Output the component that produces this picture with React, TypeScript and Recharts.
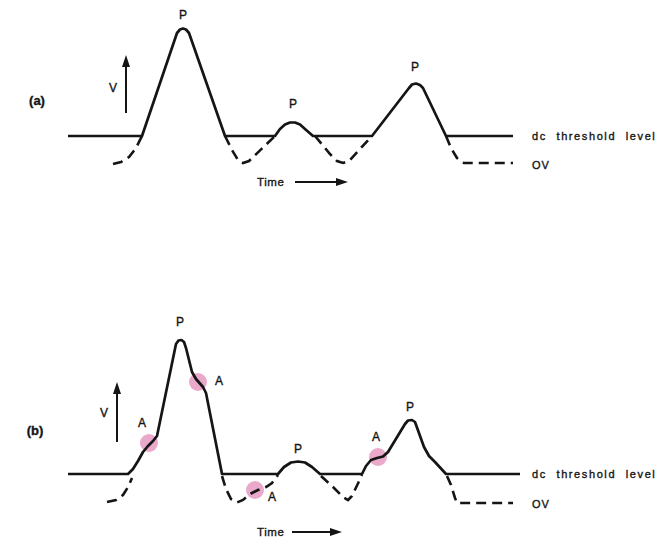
import React from 'react';
import { ComposedChart, Line, XAxis, YAxis, ReferenceDot, ReferenceLine, Scatter } from 'recharts';

// Time (t) and voltage (v) readings. Threshold level and 0 V baselines per panel.
const solidA = [
  { t: 0, v: 2.7 }, { t: 14.8, v: 2.7 }, { t: 21.8, v: 13.0 }, { t: 22.4, v: 13.35 },
  { t: 23.0, v: 13.45 }, { t: 23.6, v: 13.35 }, { t: 24.2, v: 13.0 }, { t: 31.4, v: 2.7 },
  { t: 41.4, v: 2.7 }, { t: 42.4, v: 3.4 }, { t: 43.4, v: 3.85 }, { t: 44.4, v: 4.05 },
  { t: 45.4, v: 4.05 }, { t: 46.4, v: 3.85 }, { t: 47.4, v: 3.4 }, { t: 49.0, v: 2.7 },
  { t: 60.8, v: 2.7 }, { t: 68.2, v: 7.5 }, { t: 68.8, v: 7.85 }, { t: 69.6, v: 7.95 },
  { t: 70.4, v: 7.8 }, { t: 71.0, v: 7.5 }, { t: 75.6, v: 2.7 }, { t: 89, v: 2.7 },
];

const dashA = [
  { t: 9, v: -0.1 }, { t: 10.6, v: 0.1 }, { t: 12.2, v: 0.6 }, { t: 13.6, v: 1.5 }, { t: 14.8, v: 2.7 },
  { t: 20, v: null },
  { t: 31.4, v: 2.7 }, { t: 32.8, v: 1.3 }, { t: 34, v: 0.3 }, { t: 35, v: 0 }, { t: 36.2, v: 0.2 }, { t: 41.4, v: 2.7 },
  { t: 45, v: null },
  { t: 49.4, v: 2.7 }, { t: 52.4, v: 0.9 }, { t: 53.8, v: 0.2 }, { t: 55, v: 0 }, { t: 56.2, v: 0.2 }, { t: 60.8, v: 2.7 },
  { t: 70, v: null },
  { t: 75.6, v: 2.7 }, { t: 76.6, v: 1.5 }, { t: 77.8, v: 0.5 }, { t: 79.2, v: 0 }, { t: 89, v: 0 },
];

const solidB = [
  { t: 0, v: 2.9 }, { t: 12, v: 2.9 }, { t: 13, v: 3.4 }, { t: 14, v: 4.2 }, { t: 15, v: 5.1 },
  { t: 16, v: 5.7 }, { t: 17, v: 6.2 }, { t: 17.8, v: 6.7 }, { t: 21.6, v: 15.9 }, { t: 22.1, v: 16.25 },
  { t: 22.7, v: 16.3 }, { t: 23.2, v: 16.1 }, { t: 23.6, v: 15.5 }, { t: 24.8, v: 13.1 }, { t: 25.6, v: 12.4 },
  { t: 27, v: 11.6 }, { t: 27.6, v: 11.0 }, { t: 30.8, v: 2.9 }, { t: 42, v: 2.9 }, { t: 43.2, v: 3.6 },
  { t: 44.6, v: 4.05 }, { t: 46, v: 4.15 }, { t: 47.4, v: 4.05 }, { t: 48.8, v: 3.6 }, { t: 50.4, v: 2.9 },
  { t: 58.8, v: 2.9 }, { t: 59.6, v: 3.7 }, { t: 60.6, v: 4.3 }, { t: 61.8, v: 4.5 }, { t: 63, v: 4.65 },
  { t: 64, v: 5.1 }, { t: 67.4, v: 7.9 }, { t: 68, v: 8.25 }, { t: 68.8, v: 8.3 }, { t: 69.4, v: 8.1 },
  { t: 71.2, v: 5.6 }, { t: 72.2, v: 4.7 }, { t: 73.4, v: 4.1 }, { t: 75.6, v: 2.9 }, { t: 90.4, v: 2.9 },
];

const dashB = [
  { t: 7.8, v: 0.1 }, { t: 9.6, v: 0.3 }, { t: 11, v: 0.8 }, { t: 12, v: 1.6 }, { t: 12.8, v: 2.5 },
  { t: 20, v: null },
  { t: 30.8, v: 2.7 }, { t: 31.6, v: 1.4 }, { t: 32.6, v: 0.4 }, { t: 33.8, v: 0.05 }, { t: 35, v: 0.3 },
  { t: 36.4, v: 0.9 }, { t: 38, v: 1.3 }, { t: 39.6, v: 1.6 }, { t: 40.8, v: 2.0 }, { t: 42, v: 2.8 },
  { t: 46, v: null },
  { t: 50.6, v: 2.7 }, { t: 53, v: 1.6 }, { t: 55, v: 0.6 }, { t: 56, v: 0.3 }, { t: 56.8, v: 0.7 }, { t: 58.8, v: 2.8 },
  { t: 70, v: null },
  { t: 75.8, v: 2.7 }, { t: 76.6, v: 1.8 }, { t: 77.4, v: 0.5 }, { t: 77.8, v: 0 }, { t: 89, v: 0 },
];

const artifactsB = [
  { t: 16.2, v: 6.0 }, { t: 26, v: 12.1 }, { t: 37.4, v: 1.3 }, { t: 62, v: 4.6 },
];

const peakLabelsA = [{ t: 23, v: 14.8 }, { t: 45, v: 5.9 }, { t: 69.4, v: 9.6 }];
const peakLabelsB = [{ t: 22.4, v: 18.1 }, { t: 46, v: 5.4 }, { t: 68.4, v: 9.6 }];
const artifactLabelsB = [{ t: 14.8, v: 8.0 }, { t: 30.2, v: 12.2 }, { t: 40.8, v: 0.6 }, { t: 61.6, v: 6.6 }];

const panelA = {
  name: '(a)', nameAt: { t: -6.2, v: 6.3 }, vAt: { t: 9, v: 7.5 },
  vArrow: { t: 11.6, from: 5.0, to: 9.8, tip: 10.8 },
  time: { t: 37.8, v: -1.9, from: 45.4, to: 54, tip: 56 },
  threshold: { t: 92.8, v: 2.7 }, ov: { t: 92.8, v: -0.2 },
  xDomain: [-13.6, 119.4], yDomain: [-3.7, 16.3],
};
const panelB = {
  name: '(b)', nameAt: { t: -6.6, v: 7.3 }, vAt: { t: 7.2, v: 9.0 },
  vArrow: { t: 9.8, from: 6.1, to: 11.0, tip: 12.1 },
  time: { t: 37.8, v: -2.9, from: 44.8, to: 53, tip: 54.8 },
  threshold: { t: 92.8, v: 2.9 }, ov: { t: 92.8, v: -0.1 },
  xDomain: [-13.6, 119.4], yDomain: [-3.4, 21.3],
};

const INK = '#151515';
const FONT = '"Liberation Sans", Arial, sans-serif';

function textDot(key: string, t: number, v: number, text: string, opts: any = {}) {
  const { anchor = 'middle', size = 12, spacing = 0, word = 0, weight = 400 } = opts;
  return (
    <ReferenceDot
      key={key}
      x={t}
      y={v}
      r={0}
      ifOverflow="visible"
      shape={(p: any) => (
        <text
          x={p.cx}
          y={p.cy}
          textAnchor={anchor}
          dominantBaseline="central"
          fontFamily={FONT}
          fontSize={size}
          fontWeight={weight}
          fill={INK}
          stroke={INK}
          strokeWidth={0.35}
          style={{ letterSpacing: spacing, wordSpacing: word }}
        >
          {text}
        </text>
      )}
    />
  );
}

function arrowHead(key: string, t: number, v: number, dir: 'up' | 'right') {
  return (
    <ReferenceDot
      key={key}
      x={t}
      y={v}
      r={0}
      ifOverflow="visible"
      shape={(p: any) => {
        const { cx, cy } = p;
        const pts = dir === 'up'
          ? `${cx},${cy} ${cx - 4},${cy + 12} ${cx + 4},${cy + 12}`
          : `${cx},${cy} ${cx - 12},${cy - 4} ${cx - 12},${cy + 4}`;
        return <polygon points={pts} fill={INK} />;
      }}
    />
  );
}

function Panel({ cfg, solid, dash, peaks, artifacts, artifactLabels, top, height }: any) {
  const axes = [
    <XAxis key="x" dataKey="t" type="number" domain={cfg.xDomain} allowDataOverflow hide />,
    <YAxis key="y" type="number" domain={cfg.yDomain} allowDataOverflow hide width={0} />,
  ];
  return (
    <div style={{ position: 'absolute', left: 0, top, width: 665, height }}>
      {artifacts && (
        <div style={{ position: 'absolute', left: 0, top: 0 }}>
          <ComposedChart width={665} height={height} margin={{ top: 0, right: 0, bottom: 0, left: 0 }}>
            {axes}
            <Scatter
              data={artifacts}
              dataKey="v"
              isAnimationActive={false}
              shape={(p: any) => <circle cx={p.cx} cy={p.cy} r={9} fill="#eaa9ca" />}
            />
          </ComposedChart>
        </div>
      )}
      <div style={{ position: 'absolute', left: 0, top: 0 }}>
        <ComposedChart width={665} height={height} margin={{ top: 0, right: 0, bottom: 0, left: 0 }}>
          {axes}
          <Line data={dash} dataKey="v" type="linear" stroke={INK} strokeWidth={2.6} strokeDasharray="10 6"
            dot={false} activeDot={false} connectNulls={false} isAnimationActive={false} />
          <Line data={solid} dataKey="v" type="linear" stroke={INK} strokeWidth={2.7} strokeLinejoin="round"
            dot={false} activeDot={false} isAnimationActive={false} />
          <ReferenceLine segment={[{ x: cfg.vArrow.t, y: cfg.vArrow.from }, { x: cfg.vArrow.t, y: cfg.vArrow.to }]}
            stroke={INK} strokeWidth={2} ifOverflow="visible" />
          {arrowHead('vh', cfg.vArrow.t, cfg.vArrow.tip, 'up')}
          <ReferenceLine segment={[{ x: cfg.time.from, y: cfg.time.v }, { x: cfg.time.to, y: cfg.time.v }]}
            stroke={INK} strokeWidth={2} ifOverflow="visible" />
          {arrowHead('th', cfg.time.tip, cfg.time.v, 'right')}
          {textDot('name', cfg.nameAt.t, cfg.nameAt.v, cfg.name, { size: 13, weight: 700 })}
          {textDot('vl', cfg.vAt.t, cfg.vAt.v, 'V', { size: 12 })}
          {textDot('time', cfg.time.t, cfg.time.v, 'Time', { anchor: 'start', size: 11.5, spacing: 0.6 })}
          {textDot('thr', cfg.threshold.t, cfg.threshold.v, 'dc threshold level', { anchor: 'start', size: 11, spacing: 1.6, word: 5 })}
          {textDot('ov', cfg.ov.t, cfg.ov.v, 'OV', { anchor: 'start', size: 11, spacing: 1 })}
          {peaks.map((p: any, i: number) => textDot('p' + i, p.t, p.v, 'P', { size: 12 }))}
          {(artifactLabels || []).map((p: any, i: number) => textDot('a' + i, p.t, p.v, 'A', { size: 12 }))}
        </ComposedChart>
      </div>
    </div>
  );
}

export default function App() {
  return (
    <div style={{ position: 'absolute', left: 0, top: 0, width: 665, height: 537, background: '#fff' }}>
      <Panel cfg={panelA} solid={solidA} dash={dashA} peaks={peakLabelsA} top={0} height={200} />
      <Panel cfg={panelB} solid={solidB} dash={dashB} peaks={peakLabelsB} artifacts={artifactsB}
        artifactLabels={artifactLabelsB} top={290} height={247} />
    </div>
  );
}
